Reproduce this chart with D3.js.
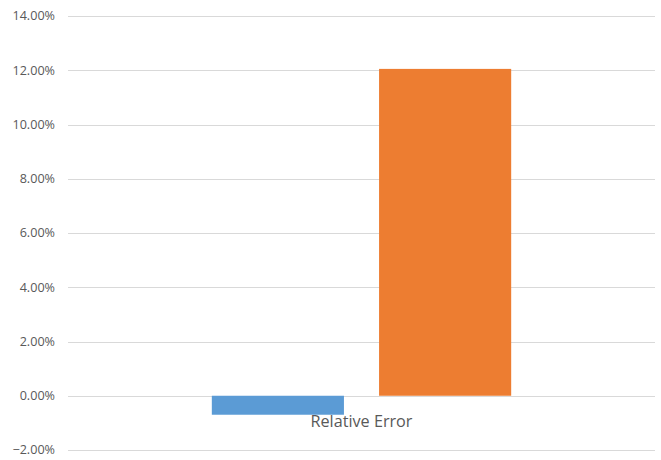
<!DOCTYPE html>
<html>
<head>
<meta charset="utf-8">
<script src="https://cdn.jsdelivr.net/npm/d3@7"></script>
<style>
  html, body { margin: 0; padding: 0; background: #fff; }
  svg { display: block; }
</style>
</head>
<body>
<svg id="chart" width="661" height="460"></svg>
<script>
// Chart data
const categories = ["Relative Error"];
const seriesNames = ["Series A", "Series B"];
const seriesValues = [-0.0070, 0.1205];
const seriesColors = ["#5B9BD5", "#ED7D31"];
const tickValues = [-0.02, 0, 0.02, 0.04, 0.06, 0.08, 0.10, 0.12, 0.14];

const svg = d3.select("#chart");
const margin = { left: 68, right: 6, top: 16, bottom: 10 };
const width = 661, height = 460;

const y = d3.scaleLinear()
  .domain([-0.02, 0.14])
  .range([450, 16]);

const x = d3.scaleBand()
  .domain(categories)
  .range([margin.left, width - margin.right]);

// bars within a category: group occupies ~51% of the band
const groupWidth = x.bandwidth() * 0.51;
const xs = d3.scaleBand()
  .domain(seriesNames)
  .range([(x.bandwidth() - groupWidth) / 2, (x.bandwidth() + groupWidth) / 2])
  .paddingInner(0.21);

// gridlines
svg.append("g")
  .selectAll("line")
  .data(tickValues)
  .join("line")
  .attr("x1", margin.left)
  .attr("x2", width - margin.right)
  .attr("y1", d => Math.round(y(d)) + 0.5)
  .attr("y2", d => Math.round(y(d)) + 0.5)
  .attr("stroke", "#d9d9d9")
  .attr("stroke-width", 1);

// y axis labels
const fmt = d3.format(".2%");
svg.append("g")
  .selectAll("text")
  .data(tickValues)
  .join("text")
  .attr("x", 55)
  .attr("y", d => y(d))
  .attr("dy", "0.35em")
  .attr("text-anchor", "end")
  .attr("font-family", "'Open Sans', 'Liberation Sans', sans-serif")
  .attr("font-size", 12.6)
  .attr("fill", "#595959")
  .text(d => fmt(d));

// bars
const data = seriesNames.map((s, i) => ({ cat: categories[0], s, v: seriesValues[i], c: seriesColors[i] }));
svg.append("g")
  .selectAll("rect")
  .data(data)
  .join("rect")
  .attr("x", d => x(d.cat) + xs(d.s))
  .attr("width", xs.bandwidth())
  .attr("y", d => y(Math.max(0, d.v)))
  .attr("height", d => Math.abs(y(d.v) - y(0)))
  .attr("fill", d => d.c);

// category label
svg.append("g")
  .selectAll("text")
  .data(categories)
  .join("text")
  .attr("x", d => x(d) + x.bandwidth() / 2)
  .attr("y", 421)
  .attr("dy", "0.35em")
  .attr("text-anchor", "middle")
  .attr("font-family", "'Open Sans', 'Liberation Sans', sans-serif")
  .attr("font-size", 16.2)
  .attr("fill", "#595959")
  .text(d => d);
</script>
</body>
</html>
